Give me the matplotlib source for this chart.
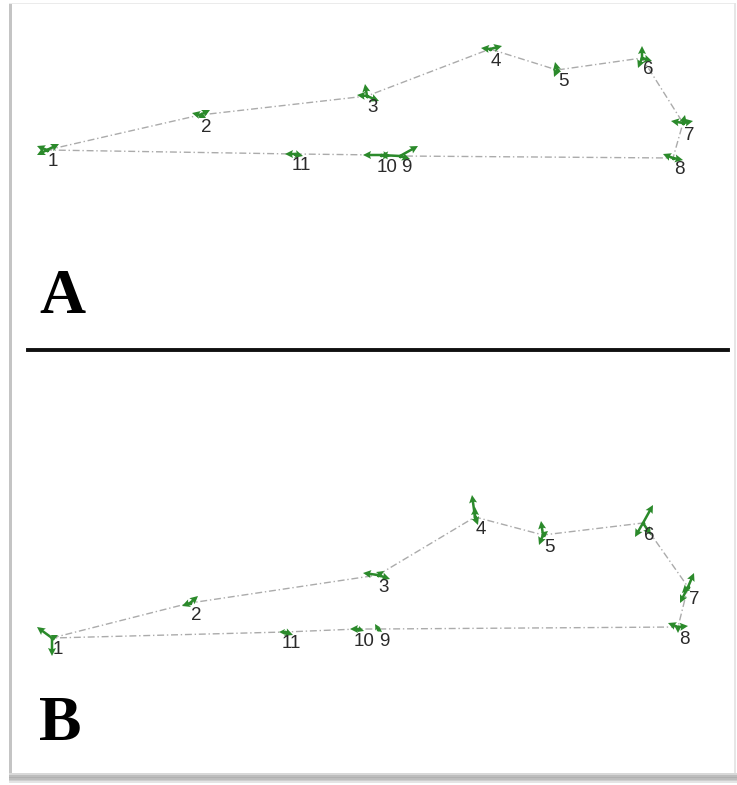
import matplotlib
matplotlib.use('Agg')
import matplotlib.pyplot as plt
import numpy as np
from matplotlib.lines import Line2D
from matplotlib.patches import Rectangle

# landmark positions (panel-local units, y grows downward)
labels = ['1', '2', '3', '4', '5', '6', '7', '8', '9', '10', '11']
xa = [47, 200, 367, 490, 557, 642, 683, 673, 400, 381, 295]
ya = [150, 115, 96, 49, 70, 58, 123, 158, 156, 155, 154]
xb = [52, 190, 378, 475, 543, 643, 688, 678, 378, 358, 285]
yb = [288, 253, 225, 167, 185, 173, 237, 277, 279, 279, 282]

# displacement arrows: landmark index, dx, dy
arr_a_idx = [0, 0, 0, 1, 1, 1, 2, 2, 2, 3, 3, 4, 4, 4, 5, 5, 5, 6, 6, 6, 7, 7, 8, 8, 8, 9, 9, 10, 10]
arr_a_u = [12, -10, -10, 10, -8, 6, -10, 12, -2, -9, 12, -2, -3, 4, 0, -4, 10, -12, 10, 2, -10, 10, 18, -20, 10, -18, 10, -10, 8]
arr_a_v = [-6, -4, 5, -5, -2, 3, -1, 5, -12, -1, -3, -8, 7, 2, -12, 10, 3, -2, -2, -8, -4, 2, -10, -1, 3, 0, 1, 0, 2]
arr_b_idx = [0, 0, 0, 1, 1, 2, 2, 2, 3, 3, 3, 4, 4, 4, 5, 5, 5, 6, 6, 6, 7, 7, 7, 8, 8, 9, 9, 10, 10]
arr_b_u = [-15, 0, 6, 8, -8, -15, 12, 6, -3, 0, 3, -2, -4, 5, 10, -8, 8, 6, -8, -6, -10, 10, 0, -3, 4, -8, 6, -6, 8]
arr_b_v = [-11, 18, -3, -7, 3, -2, 4, -4, -22, -10, 8, -14, 10, -4, -18, 14, 12, -14, 16, 6, -4, -1, 6, -5, 3, 0, 2, 0, 3]

W, H = 737, 785
fig = plt.figure(figsize=(W / 100, H / 100), dpi=100)
fig.patch.set_facecolor('white')

split = 350
ax_a = fig.add_axes([0, 1 - split / H, 1, split / H])
ax_b = fig.add_axes([0, 0, 1, 1 - split / H])
ax_a.set_xlim(0, W)
ax_a.set_ylim(split, 0)
ax_b.set_xlim(0, W)
ax_b.set_ylim(H - split, 0)

green = '#2b8a2b'
panels = [(ax_a, xa, ya, arr_a_idx, arr_a_u, arr_a_v, 'A', 313),
          (ax_b, xb, yb, arr_b_idx, arr_b_u, arr_b_v, 'B', 390)]

for ax, xs, ys, idx, u, v, tag, tag_y in panels:
    ax.axis('off')
    # closed outline through landmarks
    ax.plot(xs + xs[:1], ys + ys[:1], color='#ababab', lw=1.0,
            ls=(0, (5, 2, 1, 2)), zorder=1)
    px = [xs[i] for i in idx]
    py = [ys[i] for i in idx]
    ax.quiver(px, py, u, v, angles='xy', scale_units='xy', scale=1,
              color=green, width=0.0034, headwidth=3.2, headlength=3.2,
              headaxislength=2.8, zorder=3)
    ax.scatter(px, py, s=6, color=green, zorder=3, lw=0)
    for lab, x, y in zip(labels, xs, ys):
        ax.text(x + 6, y + 12, lab, fontsize=13.5, color='#2a2a2a',
                family='Liberation Sans', ha='center', va='center', zorder=4)
    ax.text(39, tag_y, tag, fontsize=46, fontweight='bold',
            family='Liberation Serif', ha='left', va='baseline', color='black')

# divider between panels
fig.add_artist(Line2D([28 / W, 728 / W], [1 - split / H] * 2,
                      color='#111111', lw=2.8))

# screenshot frame: left edge, top, right and bottom shadow
fig.add_artist(Rectangle((9 / W, 10 / H), 3 / W, (H - 13) / H,
                         transform=fig.transFigure, color='#c4c4c4', lw=0))
fig.add_artist(Rectangle((9 / W, 1 - 4 / H), (W - 12) / W, 1.5 / H,
                         transform=fig.transFigure, color='#ebebeb', lw=0))
fig.add_artist(Rectangle((734 / W, 10 / H), 1.5 / W, (H - 13) / H,
                         transform=fig.transFigure, color='#e6e6e6', lw=0))
for k, c in enumerate(['#d8d8d8', '#bdbdbd', '#b0b0b0', '#bdbdbd', '#cfcfcf', '#e4e4e4']):
    fig.add_artist(Rectangle((9 / W, (10 - k * 1.6) / H), (W - 9) / W, 1.6 / H,
                             transform=fig.transFigure, color=c, lw=0))

fig.savefig('out.png', dpi=100)
